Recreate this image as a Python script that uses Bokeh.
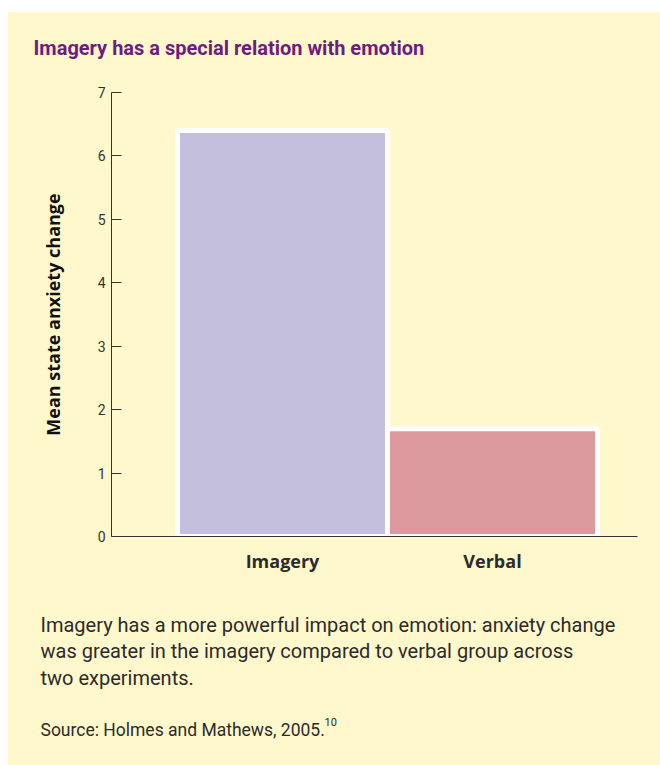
from bokeh.plotting import figure
from bokeh.layouts import column
from bokeh.models import FixedTicker, Range1d
from bokeh.core.properties import value
from bokeh.embed import file_html
from bokeh.resources import INLINE

# ---- data ----
categories = ["Imagery", "Verbal"]
anxiety_change = [6.4, 1.7]
bar_colors = ["#c4bfdd", "#dc999e"]
y_ticks = [0, 1, 2, 3, 4, 5, 6, 7]

title_text = "Imagery has a special relation with emotion"
y_label = "Mean state anxiety change"
caption_lines = [
    "Imagery has a more powerful impact on emotion: anxiety change",
    "was greater in the imagery compared to verbal group across",
    "two experiments.",
]
source_text = "Source: Holmes and Mathews, 2005."
source_ref = "10"

BG = "#fff8cc"
DARK = "#2b2b2b"
PURPLE = "#6c1d7d"

# ---- geometry (page pixels) ----
LEFT, TOP = 8, 12
W = 652
MAIN_T, MAIN_B = 82, 600
BOT_B = 765
FRAME_L, FRAME_R, FRAME_T, FRAME_B = 111, 637, 92, 536
X0_PX, X_UNIT = 177.0, 210.0          # pixel of x=0 and pixels per x unit


def dx(px):
    return (px - X0_PX) / X_UNIT


def no_align(f):
    if "frame_align" in f.properties():
        f.frame_align = False
    return f


def text_strip(y_top, y_bottom):
    f = figure(width=W, height=y_bottom - y_top,
               x_range=Range1d(LEFT, LEFT + W), y_range=Range1d(y_bottom, y_top),
               x_axis_type=None, y_axis_type=None,
               output_backend="svg", toolbar_location=None,
               min_border_left=0, min_border_right=0,
               min_border_top=0, min_border_bottom=0)
    f.background_fill_color = BG
    f.border_fill_color = BG
    f.outline_line_color = None
    return no_align(f)


def put(f, px, py, text, font, size, color, style="normal"):
    f.text(x=[px], y=[py], text=[text], text_font=value(font),
           text_font_style=style, text_font_size=size, text_color=color,
           text_align="left", text_baseline="alphabetic")


# title strip
top = text_strip(TOP, MAIN_T)
put(top, 33, 47, title_text, "Roboto", "20px", PURPLE, "bold")

# main chart
p = figure(
    width=W, height=MAIN_B - MAIN_T,
    output_backend="svg", toolbar_location=None,
    x_range=Range1d(dx(FRAME_L), dx(FRAME_R)),
    y_range=Range1d(0, 7),
    min_border_left=FRAME_L - LEFT,
    min_border_right=LEFT + W - FRAME_R,
    min_border_top=FRAME_T - MAIN_T,
    min_border_bottom=MAIN_B - FRAME_B,
)
no_align(p)
p.background_fill_color = BG
p.border_fill_color = BG
p.outline_line_color = None
p.grid.grid_line_color = None

centers = [i + 0.5 for i in range(len(categories))]
p.vbar(x=centers, top=anxiety_change, width=1.0, bottom=0,
       fill_color=bar_colors, line_color="white", line_width=5)

ya = p.yaxis[0]
ya.ticker = FixedTicker(ticks=y_ticks)
ya.minor_tick_line_color = None
ya.major_tick_in = 10
ya.major_tick_out = 0
ya.major_tick_line_color = "#333333"
ya.axis_line_color = "#333333"
ya.major_label_text_font = "Roboto"
ya.major_label_text_font_size = "14px"
ya.major_label_text_color = "#333333"
ya.major_label_standoff = 6
ya.axis_label = y_label
ya.axis_label_text_font = "Open Sans"
ya.axis_label_text_font_style = "bold"
ya.axis_label_text_font_size = "18px"
ya.axis_label_text_color = "#111111"
ya.axis_label_standoff = 30

xa = p.xaxis[0]
xa.ticker = FixedTicker(ticks=centers)
xa.major_label_overrides = {c: n for c, n in zip(centers, categories)}
xa.minor_tick_line_color = None
xa.major_tick_line_color = None
xa.axis_line_color = "#333333"
xa.major_label_text_font = "Open Sans"
xa.major_label_text_font_style = "bold"
xa.major_label_text_font_size = "18px"
xa.major_label_text_color = DARK
xa.major_label_standoff = 6

# caption strip
bot = text_strip(MAIN_B, BOT_B)
for line, b in zip(caption_lines, [624, 650.5, 677]):
    put(bot, 40, b, line, "Roboto", "20px", DARK)
put(bot, 40, 729, source_text, "Roboto", "17.5px", DARK)
put(bot, 324, 721, source_ref, "Roboto", "11px", DARK)

layout = column(top, p, bot, spacing=0)
layout.margin = (TOP, 0, 0, LEFT)
layout.styles = {"background-color": BG}

open("out.html", "w").write(file_html(layout, INLINE))
